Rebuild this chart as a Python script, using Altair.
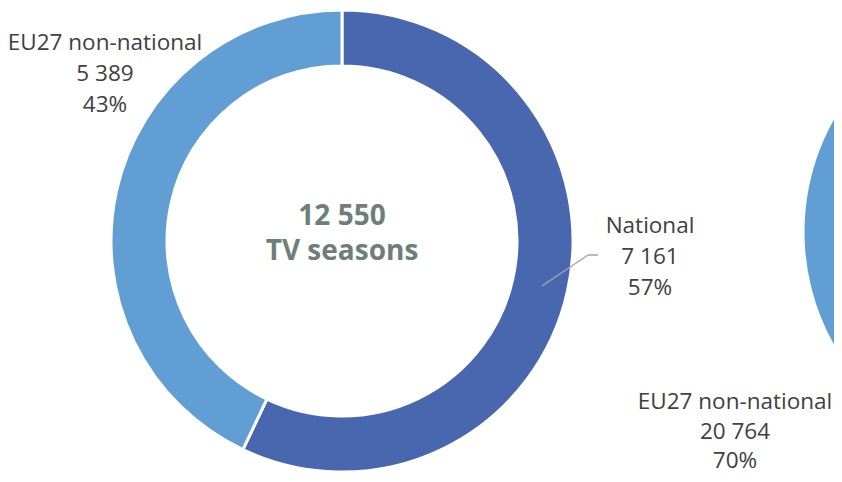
import altair as alt
import pandas as pd

# ---- data ----
categories = ["National", "EU27 non-national"]
values_left = [7161, 5389]
values_right = [8899, 20764]   # right donut (only part visible); National estimated
unit_label = "TV seasons"
colors = ["#4967AF", "#619ED3"]

def fmt(v):
    return f"{v:,}".replace(",", " ")

def make_df(vals):
    tot = sum(vals)
    return pd.DataFrame({
        "category": categories,
        "value": vals,
        "order": [0, 1],
        "label": [f"{c}\n{fmt(v)}\n{round(100 * v / tot)}%" for c, v in zip(categories, vals)],
    })

df_left = make_df(values_left)
df_right = make_df(values_right)
total_left = sum(values_left)

color_scale = alt.Scale(domain=categories, range=colors)

# ---- layout (chart pixel coordinates) ----
CX1, CY1 = 334, 233
CX2, CY2 = 1026, 224
R_OUT, R_IN = 231, 175
FONT = "Open Sans"
LABEL_COLOR = "#404040"

def donut(df, cx, cy):
    return alt.Chart(df).mark_arc(
        outerRadius=R_OUT, innerRadius=R_IN, stroke="white", strokeWidth=3
    ).encode(
        theta=alt.Theta("value:Q", stack=True),
        color=alt.Color("category:N", scale=color_scale, legend=None),
        order=alt.Order("order:Q"),
        x=alt.value(cx),
        y=alt.value(cy),
    )

arc_left = donut(df_left, CX1, CY1)
arc_right = donut(df_right, CX2, CY2)

def label(df, cat, x, y, lh=31):
    return alt.Chart(df).transform_filter(
        alt.datum.category == cat
    ).mark_text(
        font=FONT, fontSize=22.5, color=LABEL_COLOR, align="center",
        baseline="alphabetic", lineBreak="\n", lineHeight=lh
    ).encode(text="label:N", x=alt.value(x), y=alt.value(y))

lab_nat = label(df_left, "National", 642, 225)
lab_eu = label(df_left, "EU27 non-national", 97, 42)
lab_eu2 = label(df_right, "EU27 non-national", 727, 401, lh=29.5)

center_df = pd.DataFrame({"total": [fmt(total_left)], "unit": [unit_label]})

def center_text(field, y):
    return alt.Chart(center_df).mark_text(
        font=FONT, fontSize=28, fontWeight="bold", color="#6E7F79",
        align="center", baseline="alphabetic"
    ).encode(text=f"{field}:N", x=alt.value(CX1), y=alt.value(y))

center1 = center_text("total", 217)
center2 = center_text("unit", 252)

leader_df = pd.DataFrame({"k": [0]})
leader1 = alt.Chart(leader_df).mark_rule(color="#A6A6A6", strokeWidth=1.5).encode(
    x=alt.value(534), y=alt.value(278), x2=alt.value(580), y2=alt.value(247))
leader2 = alt.Chart(leader_df).mark_rule(color="#A6A6A6", strokeWidth=1.5).encode(
    x=alt.value(580), y=alt.value(247), x2=alt.value(590), y2=alt.value(247))

chart = alt.layer(
    arc_left, arc_right, leader1, leader2, lab_nat, lab_eu, lab_eu2, center1, center2
).resolve_scale(theta="independent").properties(
    width=826, height=466, padding=0, autosize=alt.AutoSizeParams(type="none")
).configure_view(stroke=None)

chart.save("out.html", embed_options={"renderer": "svg", "actions": False})
